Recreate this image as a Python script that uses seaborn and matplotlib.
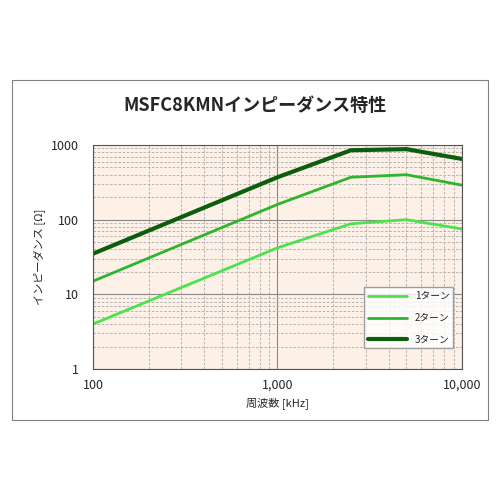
import matplotlib
matplotlib.use("Agg")
import matplotlib.pyplot as plt
import seaborn as sns
import pandas as pd
from matplotlib.patches import Rectangle
from matplotlib.ticker import FixedLocator, FixedFormatter, LogLocator, NullFormatter

freq = [100, 1000, 2500, 5000, 10000]
turn1 = [4, 42, 88, 100, 75]
turn2 = [15, 160, 370, 400, 290]
turn3 = [35, 370, 850, 880, 650]
labels = ["1ターン", "2ターン", "3ターン"]
colors = ["#4CE24C", "#2DB52D", "#0B5E0B"]
widths = [2, 2, 3]

sns.set_style("white")
plt.rcParams['font.family'] = ['Noto Sans CJK JP', 'DejaVu Sans']

df = pd.DataFrame({"freq": freq * 3, "val": turn1 + turn2 + turn3,
                   "series": sum([[l] * len(freq) for l in labels], [])})

fig = plt.figure(figsize=(5, 5), dpi=100)
fig.patches.append(Rectangle((0.024, 0.16), 0.952, 0.68, transform=fig.transFigure,
                             fill=False, edgecolor="#808080", lw=0.8))
ax = fig.add_axes([0.186, 0.262, 0.738, 0.448])
ax.set_facecolor("#FDF1E7")
for l, c, w in zip(labels, colors, widths):
    sub = df[df.series == l]
    sns.lineplot(data=sub, x="freq", y="val", ax=ax, color=c, lw=w, label=l)
ax.set_xscale("log"); ax.set_yscale("log")
ax.set_xlim(100, 10000); ax.set_ylim(1, 1000)
ax.xaxis.set_major_locator(FixedLocator([100, 1000, 10000]))
ax.xaxis.set_major_formatter(FixedFormatter(["100", "1,000", "10,000"]))
ax.yaxis.set_major_locator(FixedLocator([1, 10, 100, 1000]))
ax.yaxis.set_major_formatter(FixedFormatter(["1", "10", "100", "1000"]))
for a in (ax.xaxis, ax.yaxis):
    a.set_minor_locator(LogLocator(base=10, subs=range(2, 10)))
    a.set_minor_formatter(NullFormatter())
ax.grid(which="major", color="#888888", lw=0.8)
ax.grid(which="minor", color="#AAAAAA", lw=0.6, ls=(0, (3, 2)))
ax.tick_params(which="both", length=0, labelsize=9)
ax.tick_params(axis="x", pad=7)
ax.tick_params(axis="y", pad=10)
for s in ax.spines.values():
    s.set_color("#555555"); s.set_linewidth(0.8)
ax.set_xlabel("周波数 [kHz]", fontsize=8)
ax.set_ylabel("インピーダンス [Ω]", fontsize=8)
fig.text(0.51, 0.79, "MSFC8KMNインピーダンス特性", fontsize=13, fontweight="bold",
         ha="center", va="center")
leg = ax.legend(loc="lower right", bbox_to_anchor=(0.99, 0.07), fontsize=7,
                frameon=True, fancybox=False, edgecolor="#888888", labelspacing=1.2,
                handlelength=4)
leg.get_frame().set_facecolor("white")
fig.savefig("out.png", dpi=100)
